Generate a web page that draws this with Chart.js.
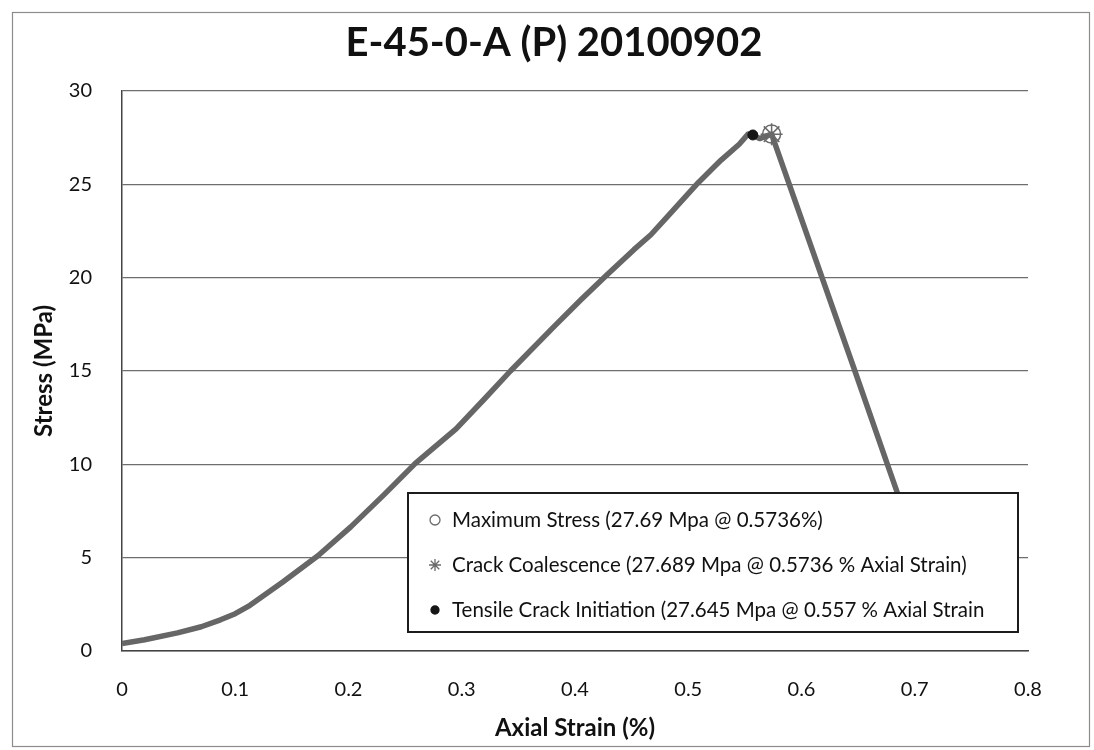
<!DOCTYPE html>
<html>
<head>
<meta charset="utf-8">
<title>E-45-0-A (P) 20100902</title>
<script src="https://cdn.jsdelivr.net/npm/chart.js@4.4.0/dist/chart.umd.min.js"></script>
<style>
  html, body { margin: 0; padding: 0; background: #fff; }
  #wrap { width: 1094px; height: 750px; position: relative; }
</style>
</head>
<body>
<div id="wrap"><canvas id="stressChart" width="1094" height="750"></canvas></div>
<script>
// --- Curva esfuerzo-deformación (Axial Strain %, Stress MPa) ---
const strainPts = [0, 0.02, 0.049, 0.07, 0.087, 0.1, 0.113, 0.142, 0.173, 0.202, 0.231, 0.259,
  0.295, 0.32, 0.343, 0.381, 0.405, 0.429, 0.452, 0.467, 0.482, 0.509, 0.529, 0.545, 0.553,
  0.557, 0.563, 0.5736, 0.646, 0.677, 0.692];
const stressPts = [0.4, 0.6, 0.97, 1.3, 1.67, 2.0, 2.45, 3.7, 5.1, 6.65, 8.35, 10.05,
  11.9, 13.5, 15.0, 17.35, 18.8, 20.2, 21.5, 22.3, 23.3, 25.1, 26.3, 27.15, 27.7,
  27.645, 27.45, 27.69, 15.2, 9.8, 7.2];

// --- Puntos característicos ---
const maxStress = { strain: 0.5736, stress: 27.69 };
const crackCoalescence = { strain: 0.5736, stress: 27.689 };
const crackInitiation = { strain: 0.557, stress: 27.645 };

const legendLabels = [
  'Maximum Stress (27.69 Mpa @ 0.5736%)',
  'Crack Coalescence (27.689 Mpa @ 0.5736 % Axial Strain)',
  'Tensile Crack Initiation (27.645 Mpa @ 0.557 % Axial Strain'
];

// --- Ejes ---
const xTicks = [0, 0.1, 0.2, 0.3, 0.4, 0.5, 0.6, 0.7, 0.8];
const yTicks = [0, 5, 10, 15, 20, 25, 30];

const FONT = 'Lato, "Open Sans", "Liberation Sans", sans-serif';

// Marco exterior del gráfico
const framePlugin = {
  id: 'frame',
  beforeDraw(chart) {
    const ctx = chart.ctx;
    ctx.save();
    ctx.fillStyle = '#fff';
    ctx.fillRect(0, 0, chart.width, chart.height);
    ctx.strokeStyle = '#8c8c8c';
    ctx.lineWidth = 1.2;
    ctx.strokeRect(12.5, 12.5, 1077, 734);
    ctx.restore();
  }
};

// Leyenda con fondo blanco dentro del área de trazado
const boxLegendPlugin = {
  id: 'boxLegend',
  afterDatasetsDraw(chart, args, opts) {
    const ctx = chart.ctx;
    const { x, y, w, h, rowGap, firstRow } = opts;
    ctx.save();
    ctx.fillStyle = '#fff';
    ctx.fillRect(x, y, w, h);
    ctx.strokeStyle = '#1c1c1c';
    ctx.lineWidth = 2;
    ctx.strokeRect(x, y, w, h);

    ctx.font = '20.5px ' + FONT;
    ctx.textBaseline = 'middle';
    chart.data.datasets.slice(1).forEach((ds, i) => {
      const cy = y + firstRow + i * rowGap;
      ctx.fillStyle = ds.pointBackgroundColor;
      ctx.strokeStyle = ds.pointBorderColor;
      ctx.lineWidth = 1.3;
      Chart.helpers.drawPoint(ctx, {
        pointStyle: ds.pointStyle,
        radius: ds.legendRadius,
        rotation: 0,
        borderWidth: 1.3
      }, x + 27, cy);
      ctx.fillStyle = '#111';
      ctx.fillText(ds.label, x + 44, cy);
    });
    ctx.restore();
  }
};

const curve = strainPts.map((s, i) => ({ x: s, y: stressPts[i] }));

new Chart(document.getElementById('stressChart'), {
  type: 'scatter',
  data: {
    datasets: [
      {
        label: 'E-45-0-A (P)',
        data: curve,
        showLine: true,
        borderColor: '#666',
        borderWidth: 5.5,
        borderJoinStyle: 'round',
        pointRadius: 0,
        tension: 0,
        order: 4
      },
      {
        label: legendLabels[0],
        data: [{ x: maxStress.strain, y: maxStress.stress }],
        pointStyle: 'circle',
        pointRadius: 9,
        legendRadius: 5,
        pointBackgroundColor: 'rgba(255,255,255,0)',
        pointBorderColor: '#6a6a6a',
        pointBorderWidth: 1.5,
        order: 2
      },
      {
        label: legendLabels[1],
        data: [{ x: crackCoalescence.strain, y: crackCoalescence.stress }],
        pointStyle: 'star',
        pointRadius: 11,
        legendRadius: 6,
        pointBackgroundColor: 'rgba(255,255,255,0)',
        pointBorderColor: '#6a6a6a',
        pointBorderWidth: 1.5,
        order: 1
      },
      {
        label: legendLabels[2],
        data: [{ x: crackInitiation.strain, y: crackInitiation.stress }],
        pointStyle: 'circle',
        pointRadius: 5,
        legendRadius: 4,
        pointBackgroundColor: '#151515',
        pointBorderColor: '#151515',
        pointBorderWidth: 1,
        order: 3
      }
    ]
  },
  options: {
    responsive: false,
    animation: false,
    layout: { padding: { left: 14, right: 0, top: 14, bottom: 3 } },
    plugins: {
      legend: { display: false },
      tooltip: { enabled: false },
      title: {
        display: true,
        text: 'E-45-0-A (P) 20100902',
        color: '#111',
        font: { family: FONT, size: 40, weight: 'bold' },
        padding: { top: 5, bottom: 24 }
      },
      boxLegend: { x: 408, y: 493, w: 610, h: 139, firstRow: 27, rowGap: 45 }
    },
    scales: {
      x: {
        type: 'linear',
        min: 0,
        max: 0.8,
        afterBuildTicks: (axis) => { axis.ticks = xTicks.map(v => ({ value: v })); },
        afterFit: (axis) => { axis.height = 96; },
        grid: { display: false, drawTicks: false },
        border: { display: true, color: '#444', width: 1.5 },
        ticks: {
          padding: 27,
          color: '#111',
          font: { family: FONT, size: 20 },
          maxRotation: 0,
          callback: (v) => String(v)
        },
        title: {
          display: true,
          text: 'Axial Strain (%)',
          color: '#111',
          font: { family: FONT, size: 24, weight: 'bold' },
          padding: { top: 0, bottom: 4 }
        }
      },
      y: {
        type: 'linear',
        min: 0,
        max: 30,
        afterBuildTicks: (axis) => { axis.ticks = yTicks.map(v => ({ value: v })); },
        afterFit: (axis) => { axis.width = 108; },
        grid: { color: '#6e6e6e', lineWidth: 1.3, drawTicks: false },
        border: { display: true, color: '#444', width: 1.5 },
        ticks: {
          padding: 30,
          color: '#111',
          font: { family: FONT, size: 20 }
        },
        title: {
          display: true,
          text: 'Stress (MPa)',
          color: '#111',
          font: { family: FONT, size: 24, weight: 'bold' },
          padding: { top: 16, bottom: 0 }
        }
      },
      // espacio vacío a la derecha del área de trazado
      yRight: {
        type: 'linear',
        position: 'right',
        display: true,
        grid: { display: false, drawTicks: false },
        border: { display: false },
        ticks: { display: false },
        afterFit: (axis) => { axis.width = 66; }
      }
    }
  },
  plugins: [framePlugin, boxLegendPlugin]
});
</script>
</body>
</html>
